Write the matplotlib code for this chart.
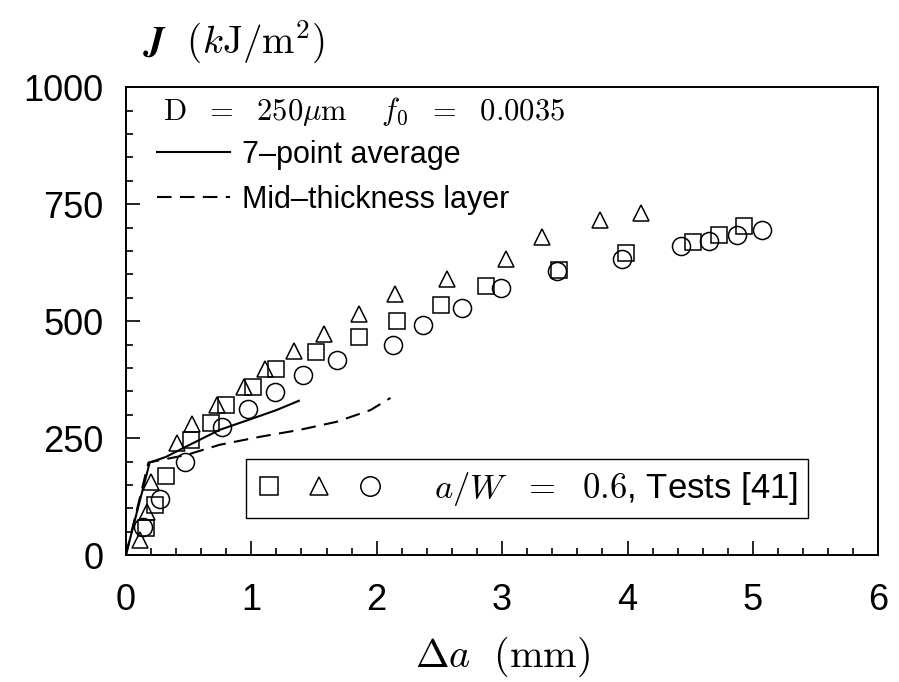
import matplotlib
matplotlib.use("Agg")
import matplotlib.pyplot as plt
from matplotlib.lines import Line2D
from matplotlib.legend_handler import HandlerTuple
from matplotlib.ticker import MultipleLocator

plt.rcParams['font.family'] = ['Liberation Sans', 'DejaVu Sans']
plt.rcParams['mathtext.fontset'] = 'cm'

# test data, a/W = 0.6 (three specimens)
sq_x = [0.16, 0.23, 0.32, 0.52, 0.68, 0.80, 1.01, 1.20, 1.52, 1.86, 2.16, 2.51, 2.87, 3.45, 3.99, 4.52, 4.73, 4.93]
sq_y = [57, 107, 169, 246, 282, 321, 360, 398, 435, 467, 501, 535, 576, 610, 645, 669, 685, 703]

tri_x = [0.11, 0.17, 0.20, 0.41, 0.53, 0.73, 0.94, 1.11, 1.34, 1.58, 1.86, 2.15, 2.56, 3.03, 3.32, 3.78, 4.11]
tri_y = [32, 93, 157, 240, 281, 321, 360, 398, 437, 473, 516, 558, 590, 633, 679, 717, 732]

circ_x = [0.14, 0.27, 0.47, 0.77, 0.97, 1.19, 1.41, 1.68, 2.13, 2.37, 2.68, 2.99, 3.44, 3.96, 4.43, 4.65, 4.87, 5.07]
circ_y = [61, 121, 199, 273, 312, 348, 384, 418, 450, 491, 528, 571, 607, 633, 660, 672, 685, 694]

# computed resistance curves
avg_x = [0.0, 0.19, 0.32, 0.48, 0.75, 1.02, 1.20, 1.38]
avg_y = [0, 198, 210, 232, 268, 293, 310, 330]

mid_x = [0.0, 0.18, 0.48, 0.75, 1.07, 1.39, 1.68, 1.95, 2.11]
mid_y = [0, 198, 214, 236, 253, 268, 285, 310, 336]

fig = plt.figure(figsize=(8.99, 6.82), dpi=100)
ax = fig.add_axes([0.140, 0.186, 0.837, 0.686])

mk = dict(mfc='none', mec='black', mew=1.1, ls='none')
ax.plot(sq_x, sq_y, marker='s', ms=12, **mk)
ax.plot(tri_x, tri_y, marker='^', ms=12, **mk)
ax.plot(circ_x, circ_y, marker='o', ms=13, **mk)

l_avg, = ax.plot(avg_x, avg_y, color='black', lw=1.5)
l_mid, = ax.plot(mid_x, mid_y, color='black', lw=1.5, ls=(0, (7, 4)))

ax.set_xlim(0, 6)
ax.set_ylim(0, 1000)
ax.xaxis.set_major_locator(MultipleLocator(1))
ax.xaxis.set_minor_locator(MultipleLocator(0.2))
ax.yaxis.set_major_locator(MultipleLocator(250))
ax.yaxis.set_minor_locator(MultipleLocator(50))
ax.tick_params(which='both', direction='in', top=False, right=False, width=1.2, labelsize=26)
ax.tick_params(axis='x', which='major', length=10, pad=20)
ax.tick_params(axis='y', which='major', length=10, pad=16)
ax.tick_params(which='minor', length=5)
for s in ax.spines.values():
    s.set_linewidth(1.4)

ax.set_xlabel(r'$\Delta a\ \ (\mathrm{mm})$', fontsize=29, labelpad=12)
fig.text(0.159, 0.938, r'$\mathbfit{J}\ \ (k\mathrm{J/m}^2)$', fontsize=28, va='center', ha='left')

ax.text(0.049, 0.948, r'$\mathrm{D}\ \ =\ \ 250\mu\mathrm{m}\ \ \ \ f_0\ \ =\ \ 0.0035$',
        transform=ax.transAxes, fontsize=22, va='center', ha='left')

leg1 = ax.legend([l_avg, l_mid], ['7–point average', 'Mid–thickness layer'],
                 loc='upper left', bbox_to_anchor=(0.041, 0.888), frameon=False,
                 fontsize=22, handlelength=2.4, handletextpad=0.4, labelspacing=0.5,
                 borderpad=0, borderaxespad=0)
ax.add_artist(leg1)

h_sq = Line2D([], [], marker='s', ms=13, **mk)
h_tri = Line2D([], [], marker='^', ms=13, **mk)
h_circ = Line2D([], [], marker='o', ms=14, **mk)
leg2 = ax.legend([(h_sq, h_tri, h_circ)], [r'$a/W\ \ =\ \ 0.6$, Tests [41]'],
                 handler_map={tuple: HandlerTuple(ndivide=None, pad=0.75)},
                 loc='lower left', bbox_to_anchor=(0.16, 0.079), borderaxespad=0,
                 fontsize=25, handlelength=3.6, handletextpad=1.5, borderpad=0.3,
                 fancybox=False, edgecolor='black', framealpha=1)
leg2.get_frame().set_linewidth(1.0)

fig.savefig('out.png', dpi=100)
